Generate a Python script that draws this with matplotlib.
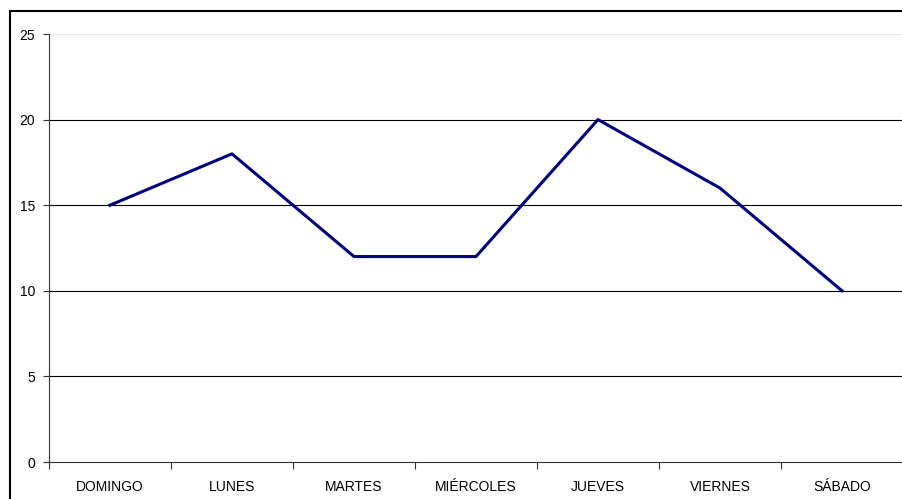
import matplotlib
matplotlib.use('Agg')
import matplotlib.pyplot as plt
from matplotlib.patches import Rectangle

# datos por día de la semana
dias = ['DOMINGO', 'LUNES', 'MARTES', 'MIÉRCOLES', 'JUEVES', 'VIERNES', 'SÁBADO']
valores = [15, 18, 12, 12, 20, 16, 10]
y_ticks = [0, 5, 10, 15, 20, 25]

plt.rcParams['font.family'] = ['Liberation Sans', 'DejaVu Sans']

fig = plt.figure(figsize=(9.02, 4.99), dpi=100)
ax = fig.add_axes([49 / 902, 37 / 499, 854 / 902, 428 / 499])

# borde del gráfico (se sale de la imagen por la derecha y abajo)
fig.patches.append(Rectangle((9.5 / 902, -0.1), 1.2, 1 - 10.5 / 499 + 0.1,
                             transform=fig.transFigure, fill=False,
                             edgecolor='black', linewidth=1.5, clip_on=False))

x = list(range(len(dias)))
ax.plot(x, valores, color='#000080', linewidth=2.2, zorder=3)

ax.set_xlim(-0.5, len(dias) - 0.5)
ax.set_ylim(0, 25)

# líneas de división
for v in y_ticks[1:]:
    col = '#e6e6e6' if v == 25 else 'black'
    ax.axhline(v, color=col, linewidth=0.8, zorder=1)

for s in ['top', 'right']:
    ax.spines[s].set_visible(False)
for s in ['left', 'bottom']:
    ax.spines[s].set_color('#333333')
    ax.spines[s].set_linewidth(0.8)

ax.set_yticks(y_ticks)
ax.tick_params(axis='y', direction='out', length=4, width=0.8, color='#333333',
               labelsize=10, pad=6)

ax.set_xticks([i - 0.5 for i in range(len(dias) + 1)])
ax.set_xticklabels([])
ax.set_xticks(x, minor=True)
ax.set_xticklabels(dias, minor=True)
ax.tick_params(axis='x', which='major', direction='out', length=5, width=0.8, color='#333333')
ax.tick_params(axis='x', which='minor', length=0, labelsize=10, pad=13)

fig.savefig('out.png', dpi=100)
